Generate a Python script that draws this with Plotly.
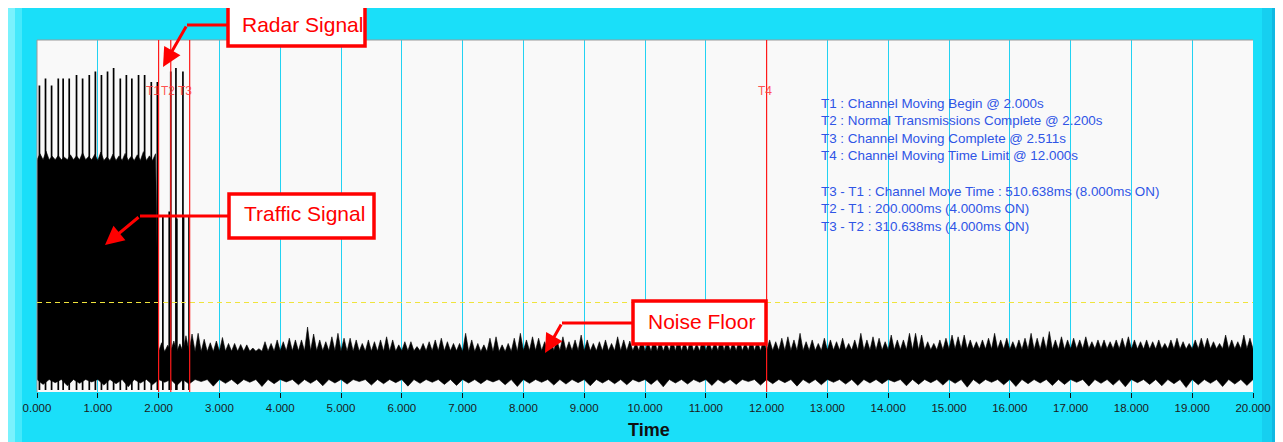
import plotly.graph_objects as go

# ---------------- data ----------------
WIN = 0.1  # width of one envelope window, s

# peak of the signal envelope in each 0.1 s window
traffic_peak = [67.5, 68.2, 66.8, 67.0, 66.5, 67.2, 66.9, 67.8, 66.7, 67.3,
                68.0, 66.6, 67.4, 66.9, 67.6, 66.8, 67.2, 68.1, 66.9, 67.5]
move_peak = [13.5, 12.8, 14.0, 13.2, 15.5]
noise_peak_a = [16.0, 16.2, 14.5, 13.5, 14.0, 15.0, 13.3, 13.3, 13.0, 12.9,
                12.0, 11.8, 13.8, 13.3, 14.3, 13.8, 14.8, 14.3, 14.3, 18.0,
                16.0, 14.3, 13.8, 15.2, 16.2, 14.8, 14.8, 14.3, 13.3, 14.3,
                13.8, 14.3, 15.2, 14.3, 12.9, 13.8, 13.8, 12.4, 13.3, 13.8,
                14.3, 14.8, 13.8, 13.3, 13.3, 16.2, 14.3, 13.3, 12.9, 14.8,
                15.2, 12.9, 13.3, 14.8, 16.2, 14.3, 15.2, 14.8]
noise_peak_b = [13.8, 14.8, 14.3, 15.2, 13.8, 14.3, 15.7, 14.3, 13.3, 13.8,
                14.3, 13.3, 15.2, 14.3,
                14.0, 13.5, 14.8, 13.8, 15.0, 14.2, 13.6, 14.6, 15.3, 13.9,
                14.4, 13.2, 14.9, 14.1, 13.7, 15.1, 14.3, 13.8, 14.6, 13.5,
                14.9, 14.0, 14.4,
                14.3, 13.8, 14.8, 15.2, 14.3, 16.2, 13.8, 14.3, 13.3, 14.8,
                14.3, 13.8, 14.8, 13.3, 14.3, 16.2, 14.3, 15.2, 14.8, 13.8,
                15.7, 14.3]
noise_peak_c = [14.3, 16.2, 16.2, 15.7, 13.8, 13.3, 14.3, 14.8, 15.7, 15.2,
                15.7, 14.3, 13.8, 14.3, 14.8, 16.2, 14.3, 14.8, 13.8, 14.3,
                14.8, 16.2, 14.8, 15.2, 16.7, 14.3, 15.2, 14.3, 14.8, 14.3,
                15.2, 13.8, 14.3, 14.3, 13.8, 14.3, 14.8, 15.2, 14.3, 13.8,
                14.3, 13.8, 14.3, 13.3, 14.3, 14.8, 13.8, 13.3, 14.3, 14.8,
                14.8, 13.8, 13.3, 15.7, 14.3, 13.8, 15.7, 14.8]
upper_peak = traffic_peak + move_peak + noise_peak_a + noise_peak_b + noise_peak_c

# solid body level of the signal for each second 0..19
body_level = [65.8, 65.6, 11.0, 11.1, 11.2, 11.1, 11.2, 11.0, 11.3, 11.2,
              11.1, 11.2, 11.3, 11.4, 11.5, 11.7, 11.6, 11.8, 11.7, 11.8]

# lower envelope: floor level and downward dips every 0.2 s
lower_body = 3.0
lower_dip = [1.6, 2.1, 1.2, 1.9, 2.3, 1.4, 1.8, 0.9, 2.0, 1.5,
             2.2, 1.3, 1.7, 2.4, 1.1, 1.9, 1.6, 2.2, 1.0, 1.8,
             2.3, 1.5, 1.9, 1.2, 2.0, 1.7, 2.4, 1.4, 1.8, 2.1,
             1.1, 1.9, 2.2, 1.6, 1.3, 2.0, 1.8, 2.3, 1.5, 1.0,
             1.9, 2.2, 1.4, 1.7, 2.1, 1.2, 2.0, 1.8, 1.5, 2.3,
             1.6, 0.9, 2.0, 1.7, 2.2, 1.3, 1.9, 1.6, 2.4, 1.4,
             1.8, 2.1, 1.1, 1.9, 1.5, 2.2, 1.7, 1.3, 2.0, 1.8,
             2.3, 1.2, 1.6, 2.1, 1.4, 1.9, 0.8, 1.7, 2.2, 1.5,
             1.0, 1.8, 2.0, 1.3, 1.6, 2.2, 1.1, 1.9, 1.4, 0.9,
             2.1, 1.6, 1.2, 1.8, 0.7, 1.5, 1.9, 1.0, 1.7, 1.3]

# radar pulses (time s, peak level)
pulse_times = [0.04, 0.14, 0.24, 0.35, 0.43, 0.53, 0.65, 0.75, 0.86, 0.96,
               1.06, 1.16, 1.26, 1.37, 1.47, 1.56, 1.67, 1.77, 1.88, 1.98,
               2.07, 2.175, 2.20, 2.285, 2.30, 2.40, 2.41, 2.50]
pulse_heights = [87, 89, 87, 89, 89, 89, 90, 89, 90, 91,
                 90, 91, 92, 89, 90, 89, 90, 90, 88, 88,
                 50, 51, 91, 92, 49, 91, 50, 50]

marker_names = ["T1", "T2", "T3", "T4"]
marker_times = [2.000, 2.200, 2.511, 12.000]
threshold_level = 25.0

info_lines = [
    "T1 : Channel Moving Begin @ 2.000s",
    "T2 : Normal Transmissions Complete @ 2.200s",
    "T3 : Channel Moving Complete @ 2.511s",
    "T4 : Channel Moving Time Limit @ 12.000s",
    "",
    "T3 - T1 : Channel Move Time : 510.638ms (8.000ms ON)",
    "T2 - T1 : 200.000ms (4.000ms ON)",
    "T3 - T2 : 310.638ms (4.000ms ON)",
]
tick_values = list(range(0, 21))
tick_labels = [f"{v:.3f}" for v in tick_values]

# ---------------- layout geometry ----------------
# the page adds an 8px body margin; geometry below is measured in page pixels
OFF = 8
W, H = 1283, 442
PL, PT, PR, PB = 37, 40, 1253, 392          # plot area in page pixels
ML, MT = PL - OFF, PT - OFF
PW, PH = PR - PL, PB - PT
MR = W - ML - PW
MB = H - MT - PH


def pxx(p):
    return (p - PL) / PW


def pxy(p):
    return (PB - p) / PH


# ---------------- build envelope polygon ----------------
ux, uy = [], []
for k, pk in enumerate(upper_peak):
    t0 = round(k * WIN, 3)
    ux += [t0, round(t0 + WIN / 2, 3)]
    uy += [body_level[min(k // 10, len(body_level) - 1)], pk]
ux.append(20.0)
uy.append(body_level[-1])
lx, ly = [], []
for j, d in enumerate(lower_dip):
    t0 = round(j * 0.2, 3)
    lx += [t0, round(t0 + 0.1, 3)]
    ly += [lower_body, d]
lx.append(20.0)
ly.append(lower_body)
poly_x = ux + lx[::-1]
poly_y = uy + ly[::-1]

pxs, pys = [], []
for t, h in zip(pulse_times, pulse_heights):
    pxs += [t, t, None]
    pys += [0, h, None]

fig = go.Figure()
fig.add_trace(go.Scatter(x=poly_x, y=poly_y, mode="lines", fill="toself",
                         fillcolor="black", line=dict(color="black", width=0.6),
                         hoverinfo="skip", showlegend=False))
fig.add_trace(go.Scatter(x=pxs, y=pys, mode="lines",
                         line=dict(color="black", width=1.7),
                         hoverinfo="skip", showlegend=False))

CYAN = "#1ADFF9"
shapes = []
# frame shading strips
for x0, x1, col in [(8, 15, "#7AF2FD"), (15, 22, "#45E9FB"),
                    (1262, 1272, "#16CFF0"), (1272, 1283, "#10B8E2")]:
    shapes.append(dict(type="rect", xref="paper", yref="paper", layer="below",
                       x0=pxx(x0), x1=pxx(x1), y0=pxy(H + 10), y1=pxy(8),
                       fillcolor=col, line=dict(width=0)))
# plot border top / left
shapes.append(dict(type="line", xref="paper", yref="paper", x0=0, x1=1, y0=1, y1=1,
                   line=dict(color="#9A9A9A", width=1)))
shapes.append(dict(type="line", xref="paper", yref="paper", x0=0, x1=0, y0=0, y1=1,
                   line=dict(color="#9A9A9A", width=1)))
# threshold
shapes.append(dict(type="line", xref="paper", yref="y", x0=0, x1=1,
                   y0=threshold_level, y1=threshold_level,
                   line=dict(color="#F0E43C", width=1.2, dash="5px,4px")))
# marker lines
for t in marker_times:
    shapes.append(dict(type="line", xref="x", yref="paper", x0=t, x1=t, y0=0, y1=1,
                       line=dict(color="#FF1A1A", width=1.2)))

# callout boxes and bent arrows (page pixel geometry)
callouts = [
    # text, box (x0, y0, x1, y1), text centre, bend point, tip
    ("Radar Signal", (228, 4, 365, 46), (302, 24), (187, 25), (163, 67)),
    ("Traffic Signal", (229, 194, 374, 238), (304, 214), (140, 216), (105, 245)),
    ("Noise Floor", (633, 301, 766, 344), (701, 321), (562, 323), (545, 353)),
]
annotations = []
for text, (bx0, by0, bx1, by1), (tx, ty), (kx, ky), (ax_, ay_) in callouts:
    shapes.append(dict(type="line", xref="paper", yref="paper",
                       x0=pxx(kx), x1=pxx(bx0), y0=pxy(ky), y1=pxy(ky),
                       line=dict(color="#FF0000", width=3)))
    shapes.append(dict(type="rect", xref="paper", yref="paper",
                       x0=pxx(bx0), x1=pxx(bx1), y0=pxy(by1), y1=pxy(by0),
                       fillcolor="white", line=dict(color="#FF0000", width=3.5)))
    annotations.append(dict(xref="paper", yref="paper", x=pxx(tx), y=pxy(ty),
                            text=text, showarrow=False, xanchor="center", yanchor="middle",
                            font=dict(family="Liberation Sans, Arial", size=21, color="#FF0000")))
    annotations.append(dict(xref="paper", yref="paper", x=pxx(ax_), y=pxy(ay_), text="",
                            showarrow=True, arrowhead=2, arrowsize=1.25, arrowwidth=3,
                            arrowcolor="#FF0000", ax=kx - ax_, ay=ky - ay_, standoff=0))

# marker labels (pixel nudges keep neighbouring labels apart)
label_shift = [-5.5, -2.5, -5.0, -1.5]
for name, t, sh in zip(marker_names, marker_times, label_shift):
    annotations.append(dict(xref="x", yref="paper", x=t, y=pxy(91), text=name,
                            showarrow=False, xanchor="center", yanchor="middle",
                            xshift=sh,
                            font=dict(family="Liberation Sans, Arial", size=12,
                                      color="rgba(255,60,60,0.9)")))

# info text block
for i, line in enumerate(info_lines):
    if not line:
        continue
    annotations.append(dict(xref="paper", yref="paper", x=pxx(819), y=pxy(103.3 + 17.55 * i),
                            text=line, showarrow=False, xanchor="left", yanchor="middle",
                            font=dict(family="Liberation Sans, Arial", size=13.4, color="#2F55E6")))

# axis title
annotations.append(dict(xref="paper", yref="paper", x=pxx(648.5), y=pxy(430), text="<b>Time</b>",
                        showarrow=False, xanchor="center", yanchor="middle",
                        font=dict(family="Liberation Sans, Arial", size=18, color="#111111")))

fig.update_layout(
    width=W, height=H,
    margin=dict(l=ML, r=MR, t=MT, b=MB, pad=0),
    paper_bgcolor=CYAN, plot_bgcolor="#F9F9F9",
    showlegend=False,
    shapes=shapes, annotations=annotations,
    xaxis=dict(range=[0, 20], tickvals=tick_values, ticktext=tick_labels,
               showgrid=True, gridcolor="#22D2F2", gridwidth=1.2, zeroline=False,
               ticks="outside", ticklen=5, tickcolor="#111111", tickwidth=1,
               tickfont=dict(family="Liberation Sans, Arial", size=11.5, color="#1A1A1A"),
               showline=False, fixedrange=True),
    yaxis=dict(range=[-0.57, 100], showgrid=False, zeroline=False, showticklabels=False,
               ticks="", showline=False, fixedrange=True),
)

fig.write_html("out.html")
